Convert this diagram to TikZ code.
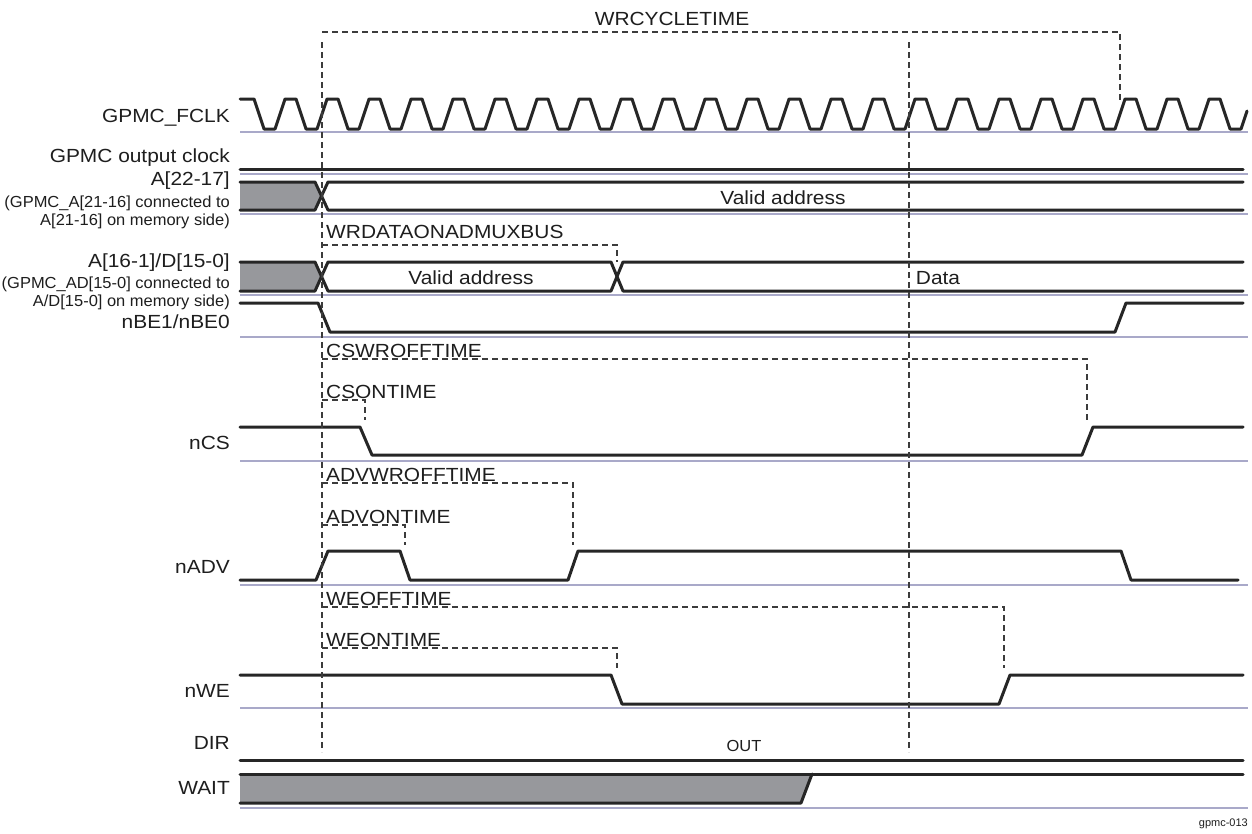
\documentclass[tikz,border=0pt]{standalone}
\usepackage{fontspec}
\setmainfont{Liberation Sans}
\newfontfamily\bigf[FakeStretch=1.1]{Liberation Sans}
\newfontfamily\smallf[FakeStretch=1.03]{Liberation Sans}
\definecolor{sigc}{HTML}{262626}
\definecolor{basec}{HTML}{A9A9C9}
\definecolor{dshc}{HTML}{3C3C3C}
\definecolor{fillc}{HTML}{97989C}
\definecolor{txtc}{HTML}{1E1E1E}
\tikzset{
  sig/.style={line width=3pt, draw=sigc, line join=round, line cap=round},
  baseln/.style={line width=1.5pt, draw=basec},
  dsh/.style={line width=1.2pt, draw=dshc, dash pattern=on 6pt off 4pt},
  lab/.style={font=\bigf\fontsize{19}{22}\selectfont, inner sep=0pt, text=txtc},
  slab/.style={font=\smallf\fontsize{16}{18}\selectfont, inner sep=0pt, text=txtc},
  rlab/.style={lab, anchor=base east},
  rslab/.style={slab, anchor=base east},
  tlab/.style={lab, anchor=base west},
  busfill/.style={fill=fillc, draw=none},
}
\begin{document}
\begin{tikzpicture}[x=1pt,y=-1pt]
\useasboundingbox[fill=white] (0,0) rectangle (1252,833);

% baselines
\foreach \yy in {132,174,214,295,337,461,585,708,808}
  \draw[baseln] (240,\yy) -- (1248,\yy);

% left labels
\node[rlab] (lclk) at (230,122) {GPMC\_FCLK};
\node[rlab] (lout) at (230,162) {GPMC output clock};
\node[rlab] (la) at (230,185) {A[22-17]};
\node[rslab] (la1) at (230,207) {(GPMC\_A[21-16] connected to};
\node[rslab] (la2) at (230,225) {A[21-16] on memory side)};
\node[rlab] (lad) at (230,267) {A[16-1]/D[15-0]};
\node[rslab] (lad1) at (230,288) {(GPMC\_AD[15-0] connected to};
\node[rslab] (lad2) at (230,306) {A/D[15-0] on memory side)};
\node[rlab] (lbe) at (230,328) {nBE1/nBE0};
\node[rlab] (lcs) at (230,449) {nCS};
\node[rlab] (ladv) at (230,573) {nADV};
\node[rlab] (lwe) at (230,697) {nWE};
\node[rlab] (ldir) at (230,749) {DIR};
\node[rlab] (lwait) at (230,794) {WAIT};

% clock
\draw[sig] (240,99) foreach \k in {0,...,22} { -- ({254+42*\k},99) -- ({264+42*\k},129) -- ({275+42*\k},129) -- ({285+42*\k},99) } -- (1220,99) -- (1230,129) -- (1241,129) -- (1247,111);

% output clock
\draw[sig] (240,169) -- (1243,169);

% A[22-17]
\fill[busfill] (240,182) -- (315,182) -- (321.5,196) -- (315,210) -- (240,210) -- cycle;
\draw[sig] (240,182) -- (315,182) -- (328,210) -- (1243,210);
\draw[sig] (240,210) -- (315,210) -- (328,182) -- (1243,182);
\node[lab, anchor=base] (va1) at (783,204) {Valid address};

% A/D bus
\fill[busfill] (240,262) -- (315,262) -- (321.5,276.5) -- (315,291) -- (240,291) -- cycle;
\draw[sig] (240,262) -- (315,262) -- (328,291) -- (611,291) -- (623,262) -- (1243,262);
\draw[sig] (240,291) -- (315,291) -- (328,262) -- (611,262) -- (623,291) -- (1243,291);
\node[lab, anchor=base] (va2) at (471,284) {Valid address};
\node[lab, anchor=base] (vd) at (938,284) {Data};

% nBE
\draw[sig] (240,303) -- (318,303) -- (330,332) -- (1115,332) -- (1126,303) -- (1243,303);

% nCS
\draw[sig] (240,427) -- (360,427) -- (372,455) -- (1082,455) -- (1093,427) -- (1243,427);

% nADV
\draw[sig] (240,580) -- (316,580) -- (328,551) -- (400,551) -- (410,580) -- (568,580) -- (578,551) -- (1121,551) -- (1131,580) -- (1238,580);

% nWE
\draw[sig] (240,675) -- (611,675) -- (622,704) -- (999,704) -- (1010,675) -- (1243,675);

% DIR
\draw[sig] (240,760) -- (1243,760);
\node[slab, anchor=base] (out) at (744,751) {OUT};

% WAIT
\fill[busfill] (240,774) -- (812,774) -- (801,803) -- (240,803) -- cycle;
\draw[sig] (240,774) -- (1243,774);
\draw[sig] (240,803) -- (801,803) -- (812,774);

% dashed timing markers
\coordinate (t0) at (322,32);
\draw[dsh] (322,42) -- (322,752);
\draw[dsh] (909,42) -- (909,752);
\draw[dsh] (t0) -- (1120,32) -- (1120,100);
\node[lab, anchor=base] (wrc) at (672,25) {WRCYCLETIME};
\draw[dsh] (322,245) -- (617,245) -- (617,262);
\node[tlab] (wrd) at (326,238) {WRDATAONADMUXBUS};
\draw[dsh] (322,359) -- (1087,359) -- (1087,420);
\node[tlab] (cswr) at (326,357) {CSWROFFTIME};
\draw[dsh] (322,400) -- (365,400) -- (365,420);
\node[tlab] (cson) at (326,398) {CSONTIME};
\draw[dsh] (322,483) -- (573,483) -- (573,545);
\node[tlab] (advwr) at (326,481) {ADVWROFFTIME};
\draw[dsh] (322,525) -- (405,525) -- (405,545);
\node[tlab] (advon) at (326,523) {ADVONTIME};
\draw[dsh] (322,607) -- (1004,607) -- (1004,668);
\node[tlab] (weoff) at (326,605) {WEOFFTIME};
\draw[dsh] (322,648) -- (617,648) -- (617,668);
\node[tlab] (weon) at (326,646) {WEONTIME};

\node[font=\fontsize{11}{13}\selectfont, anchor=base east, inner sep=0pt, text=txtc] (fig) at (1248,826) {gpmc-013};
\end{tikzpicture}
\end{document}
